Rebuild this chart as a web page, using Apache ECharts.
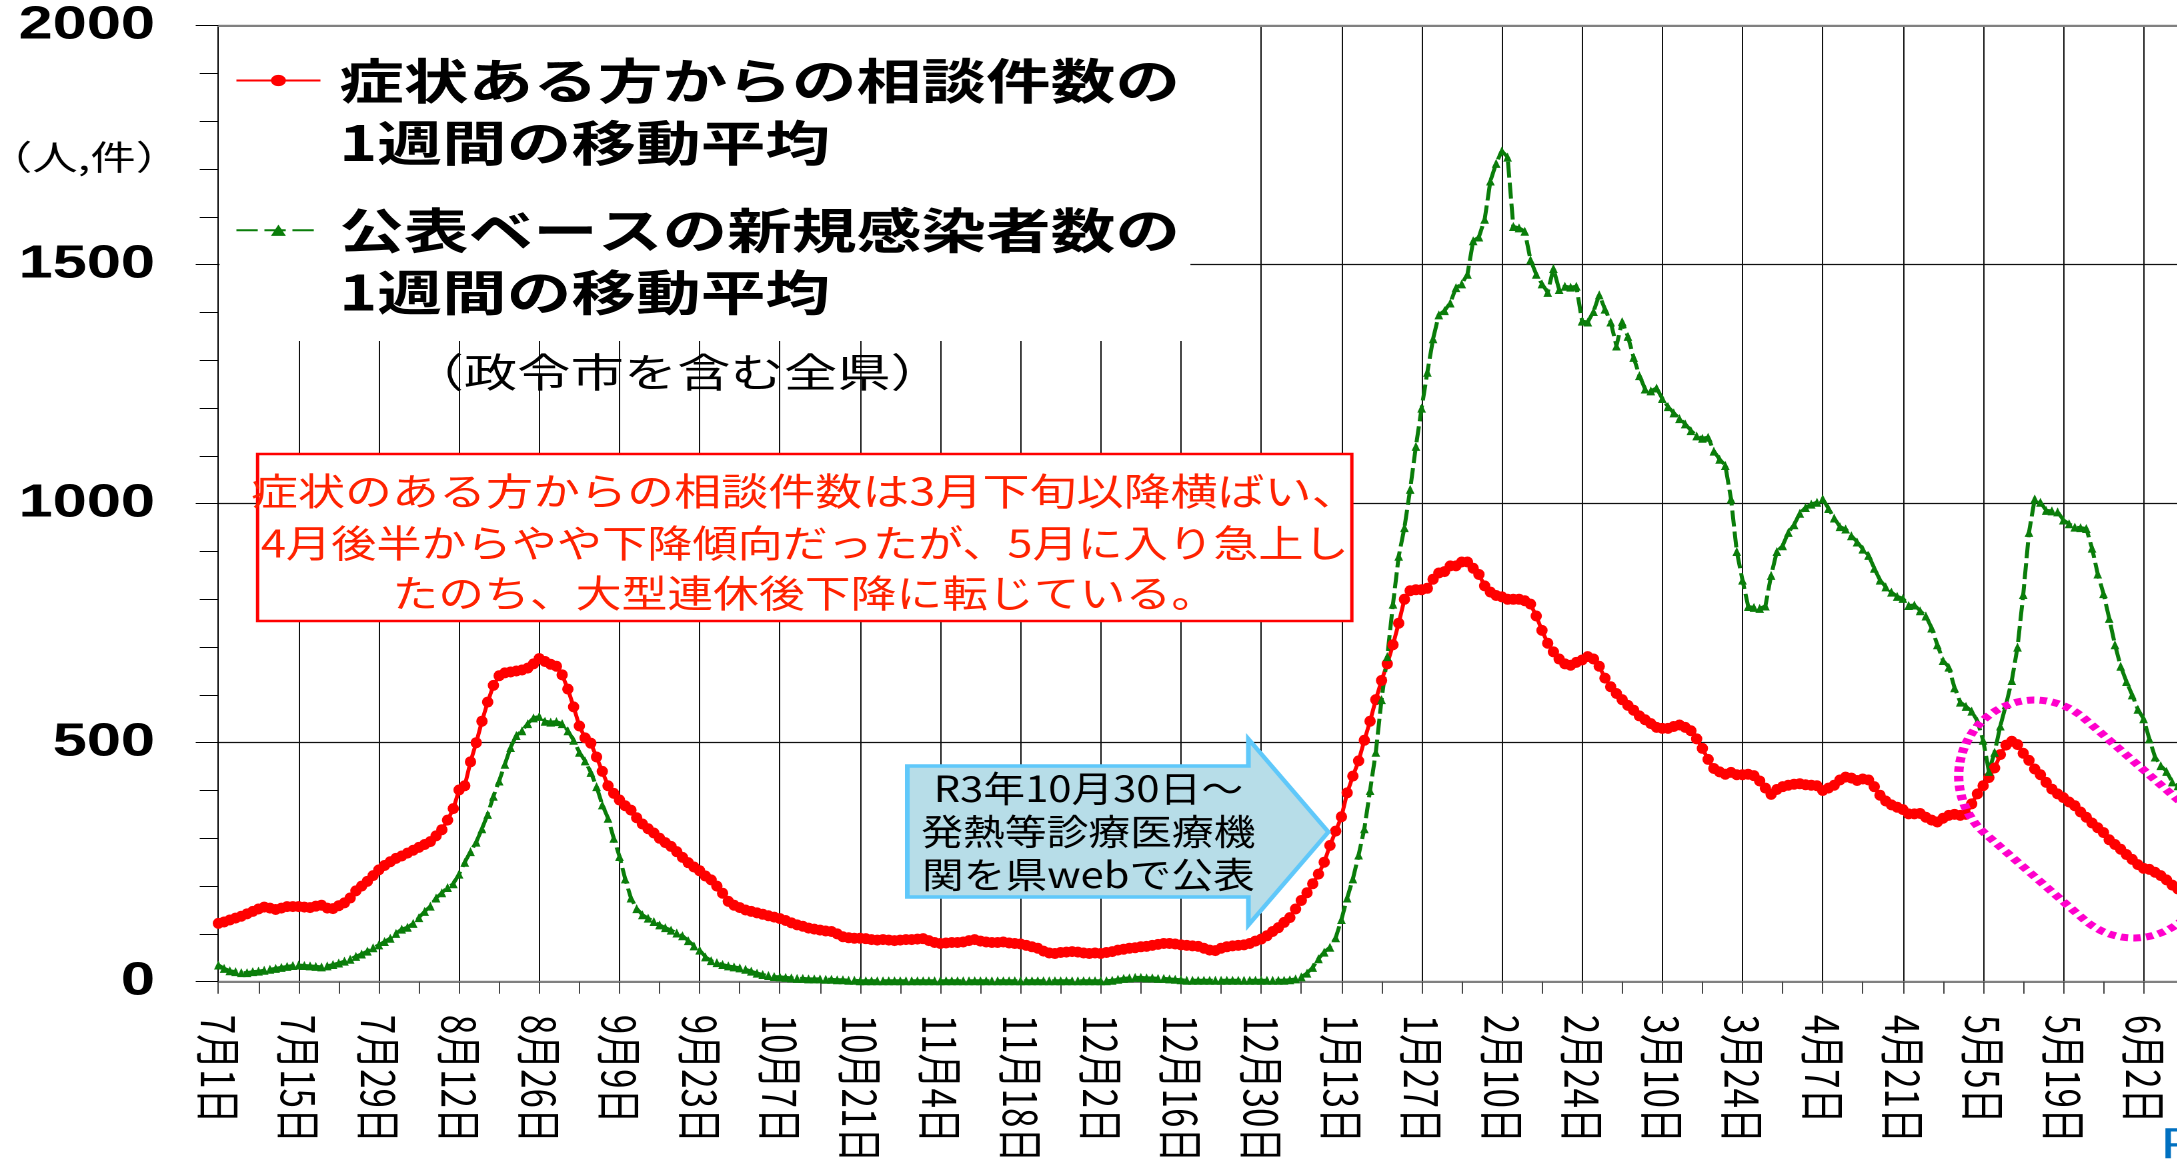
<!DOCTYPE html>
<html>
<head>
<meta charset="utf-8">
<script src="https://cdn.jsdelivr.net/npm/echarts/dist/echarts.min.js"></script>
<style>
html,body{margin:0;padding:0;background:#fff;overflow:hidden;width:2177px;height:1161px;}
#c{position:absolute;left:0;top:0;transform-origin:0 0;}
</style>
</head>
<body>
<div id="c"></div>
<script>
// ---------- data ----------
const START_DATE = [2021, 7, 1];
const DAY_COUNT = 351;              // axis categories (chart continues past the right edge)
const NAME_RED = '症状ある方からの相談件数の\n1週間の移動平均';
const NAME_GREEN = '公表ベースの新規感染者数の\n1週間の移動平均';
const Y_TICKS = [0, 500, 1000, 1500, 2000];

const RED = [122,125,129,133,137,142,147,152,156,154,151,154,157,157,
157,156,155,158,160,154,153,159,165,175,190,200,210,222,
234,243,251,258,263,269,275,281,287,293,305,318,338,362,
401,410,460,500,545,585,620,640,646,648,650,652,656,665,
676,670,664,660,642,612,575,535,510,499,470,440,410,394,
380,368,359,343,330,320,311,300,291,283,272,260,249,240,
232,221,213,200,185,168,160,155,150,147,144,141,138,135,
132,128,123,119,116,112,110,108,106,105,100,94,92,91,
91,90,88,87,88,87,86,87,88,88,89,90,86,82,
80,81,82,82,83,86,88,85,83,82,82,83,81,80,
79,76,73,70,64,60,59,61,62,63,62,60,59,60,
59,61,63,66,68,70,71,73,74,76,78,80,80,79,
77,76,75,74,70,66,65,70,73,75,76,77,80,85,
89,96,105,113,124,134,152,170,186,205,225,250,285,315,
345,395,430,462,505,545,590,630,665,705,750,800,818,820,
820,823,842,855,858,870,870,878,878,865,852,828,815,808,
805,800,800,800,797,790,765,735,708,690,675,665,662,668,
673,680,675,660,635,617,603,590,578,568,556,548,540,532,
530,530,534,537,532,525,508,488,465,446,439,434,438,433,
433,434,431,420,405,392,402,408,411,413,414,412,411,410,
400,405,411,422,428,426,421,424,422,408,390,378,370,365,
360,351,351,352,344,338,334,342,348,350,348,350,372,393,
410,427,447,475,495,503,496,478,463,445,433,417,403,393,
385,376,368,355,344,332,322,312,297,287,277,266,256,245,
237,235,229,222,213,202,194];

const GREEN = [35,28,23,21,19,19,21,22,24,26,28,30,32,34,
35,34,33,32,31,33,36,39,43,47,53,58,64,71,
77,84,91,101,110,114,122,134,147,158,175,186,197,205,
225,250,272,292,320,350,388,420,455,490,515,525,540,552,
555,545,543,544,540,525,505,480,462,438,408,370,342,300,
262,215,175,153,140,133,126,119,113,108,102,96,86,75,
66,52,44,40,36,33,31,29,26,22,18,15,13,11,
10,9,8,7,7,6,6,6,5,5,4,4,3,3,
2,2,2,2,2,2,2,2,2,2,2,2,2,2,
2,2,2,2,2,2,2,2,2,2,2,2,2,2,
2,2,2,2,2,2,2,2,2,2,2,2,2,2,
2,2,3,5,7,8,9,9,8,8,7,7,6,5,
4,3,3,3,3,3,3,3,3,3,3,3,3,3,
3,3,3,3,3,4,6,10,18,30,48,62,72,92,
130,175,215,265,320,400,480,590,680,790,890,950,1030,1120,
1200,1275,1345,1395,1404,1420,1452,1460,1480,1550,1558,1595,1675,1712,
1738,1725,1580,1577,1570,1510,1480,1460,1442,1492,1448,1455,1453,1455,
1382,1380,1402,1437,1407,1380,1330,1381,1350,1306,1268,1240,1236,1242,
1220,1203,1190,1178,1167,1153,1142,1137,1139,1110,1093,1080,1010,900,
840,785,783,781,786,850,900,912,940,956,980,992,999,1003,
1010,990,970,952,947,933,920,905,892,865,840,826,815,806,
802,787,788,776,765,740,705,672,658,615,585,576,566,545,
505,440,480,535,580,630,700,810,940,1010,1003,986,985,983,
966,958,951,950,948,907,853,812,760,705,660,628,600,570,
550,508,470,452,440,418,410];

const NOTE_RED = ['症状のある方からの相談件数は3月下旬以降横ばい、',
                  '4月後半からやや下降傾向だったが、5月に入り急上し',
                  'たのち、大型連休後下降に転じている。'];
const NOTE_BLUE = ['R3年10月30日〜', '発熱等診療医療機', '関を県webで公表'];
const SUBTITLE = '（政令市を含む全県）';
const UNIT = '（人,件）';

// ---------- layout (page pixels; the chart is stretched horizontally like the slide) ----------
const S = 1.3333;                 // horizontal stretch of the original picture
const W = 2177, H = 1161;
const CW = W / S;
const fx = v => v / S;
const AXIS_X = 218.3, TOP_Y = 25.7, ZERO_Y = 981.7, DAY_PX = 5.728;
const JP = "'Noto Sans CJK JP', 'Noto Sans', sans-serif";

const categories = [];
{
  const d = new Date(START_DATE[0], START_DATE[1] - 1, START_DATE[2]);
  for (let i = 0; i < DAY_COUNT; i++) {
    categories.push((d.getMonth() + 1) + '月' + d.getDate() + '日');
    d.setDate(d.getDate() + 1);
  }
}

const dom = document.getElementById('c');
dom.style.width = CW + 'px';
dom.style.height = H + 'px';
dom.style.transform = 'scaleX(' + S + ')';
const chart = echarts.init(dom, null, {renderer: 'canvas', width: CW, height: H, devicePixelRatio: 2});

// rounded (capsule) outline for the dotted annotation, page pixels -> chart pixels
function capsulePts(cx, cy, halfLen, r, deg) {
  const th = deg * Math.PI / 180, ux = Math.cos(th), uy = Math.sin(th), nx = -uy, ny = ux;
  const pts = [];
  const push = (s, t) => pts.push([fx(cx + s * ux + t * nx), cy + s * uy + t * ny]);
  for (let i = 0; i <= 60; i++) { const p = -Math.PI / 2 + Math.PI * i / 60; push(halfLen + r * Math.cos(p), r * Math.sin(p)); }
  for (let i = 0; i <= 60; i++) { const p = Math.PI / 2 + Math.PI * i / 60; push(-halfLen + r * Math.cos(p), r * Math.sin(p)); }
  return pts;
}
const arrowPts = [[907,766],[1248,766],[1248,739],[1328,832],[1248,925],[1248,897],[907,897]]
  .map(p => [fx(p[0]), p[1]]);

const legendRich = {
  t: {fontSize: 48.5, fontWeight: 'bold', fontFamily: JP, lineHeight: 62, color: '#000', padding: [0, 0, 0, 9]},
  b: {fontSize: 48.5, lineHeight: 62}
};

const noteRedScale = [0.928, 0.891, 0.904];
const noteRedY = [491, 543, 593];

const graphics = [
  {type: 'rect', z: 1, silent: true,
   shape: {x: fx(219.5), y: 27, width: fx(1190 - 219.5), height: 341 - 27},
   style: {fill: '#fff'}},
  {type: 'text', z: 5, x: fx(677), y: 372,
   style: {text: SUBTITLE, fontSize: 40, fontFamily: JP, fill: '#000',
           align: 'center', verticalAlign: 'middle'}},
  {type: 'text', z: 5, x: fx(84), y: 157,
   style: {text: UNIT, fontSize: 34, fontFamily: JP, fill: '#000',
           align: 'center', verticalAlign: 'middle'}},
  {type: 'rect', z: 10,
   shape: {x: fx(257.5), y: 454, width: fx(1351.4 - 257.5), height: 621 - 454},
   style: {fill: '#fff', stroke: '#ff0000', lineWidth: 2.5}},
  {type: 'polygon', z: 10, shape: {points: arrowPts},
   style: {fill: '#b7dde8', stroke: '#5fc8fa', lineWidth: 3.5}},
  {type: 'text', z: 11, x: fx(1088), y: 831.5, scaleX: 0.87,
   style: {text: NOTE_BLUE.join('\n'), fontSize: 36, lineHeight: 43, fontFamily: JP,
           fill: '#000', align: 'center', verticalAlign: 'middle'}},
  {type: 'polygon', z: 12, shape: {points: capsulePts(2083.5, 819, 65.5, 76, 41)},
   style: {fill: null, stroke: '#ff00cc', lineWidth: 7, lineDash: [5.5, 4]}},
  {type: 'text', z: 12, x: fx(2160), y: 1146,
   style: {text: 'P', fontSize: 44, fontFamily: "'Liberation Sans', Arial, sans-serif",
           fill: '#0070c0', align: 'left', verticalAlign: 'middle'}}
];
NOTE_RED.forEach((line, i) => graphics.push({
  type: 'text', z: 11, x: fx(804.5), y: noteRedY[i], scaleX: noteRedScale[i],
  style: {text: line, fontSize: 38, fontFamily: JP, fill: '#ff2200', align: 'center', verticalAlign: 'middle'}
}));

const option = {
  animation: false,
  backgroundColor: '#fff',
  grid: {left: fx(AXIS_X), top: TOP_Y, width: fx(DAY_PX * (DAY_COUNT - 1)), height: ZERO_Y - TOP_Y,
         containLabel: false, outerBoundsMode: 'none'},
  legend: {
    orient: 'vertical', left: fx(235), top: -6, padding: 0, itemGap: -23,
    itemWidth: fx(84), itemHeight: 14, selectedMode: false,
    data: [NAME_RED, NAME_GREEN],
    formatter: name => { const p = name.split('\n'); return '{b| }\n{t|' + p[0] + '}\n{t|' + p[1] + '}'; },
    textStyle: {rich: legendRich}
  },
  xAxis: [{
    type: 'category', data: categories, boundaryGap: false,
    axisLine: {lineStyle: {color: '#808080', width: 2}},
    axisTick: {show: true, interval: 6, length: 12, lineStyle: {color: '#444'}},
    axisLabel: {interval: 13, rotate: -90, fontSize: 35, color: '#000', margin: 33, fontFamily: JP},
    splitLine: {show: true, interval: 13, lineStyle: {color: '#111', width: 1}}
  }, {
    type: 'category', data: categories, boundaryGap: false, position: 'top',
    axisLine: {lineStyle: {color: '#808080', width: 2}},
    axisTick: {show: false}, axisLabel: {show: false}, splitLine: {show: false}
  }],
  yAxis: {
    type: 'value', min: Y_TICKS[0], max: Y_TICKS[Y_TICKS.length - 1], interval: 500,
    axisLine: {show: true, lineStyle: {color: '#000', width: 1}},
    axisTick: {show: true, length: 17, lineStyle: {color: '#000'}},
    minorTick: {show: true, splitNumber: 5, length: 14, lineStyle: {color: '#000'}},
    axisLabel: {fontSize: 46, fontWeight: 'bold', color: '#000', margin: 47.5,
                padding: [10, 0, 0, 0],
                fontFamily: "'Liberation Sans', Arial, sans-serif",
                formatter: v => String(v)},
    splitLine: {show: true, lineStyle: {color: '#111', width: 1.2}}
  },
  series: [{
    name: NAME_RED, type: 'line', data: RED, xAxisIndex: 0,
    symbol: 'circle', symbolSize: [8.5, 11], showAllSymbol: true,
    lineStyle: {color: '#ff0000', width: 3},
    itemStyle: {color: '#ff0000'}
  }, {
    name: NAME_GREEN, type: 'line', data: GREEN, xAxisIndex: 0,
    symbol: 'triangle', symbolSize: [6.5, 9], showAllSymbol: true,
    lineStyle: {color: '#0a7d0a', width: 3, type: [16, 5]},
    itemStyle: {color: '#0a7d0a'}
  }],
  graphic: graphics
};
chart.setOption(option);
</script>
</body>
</html>
